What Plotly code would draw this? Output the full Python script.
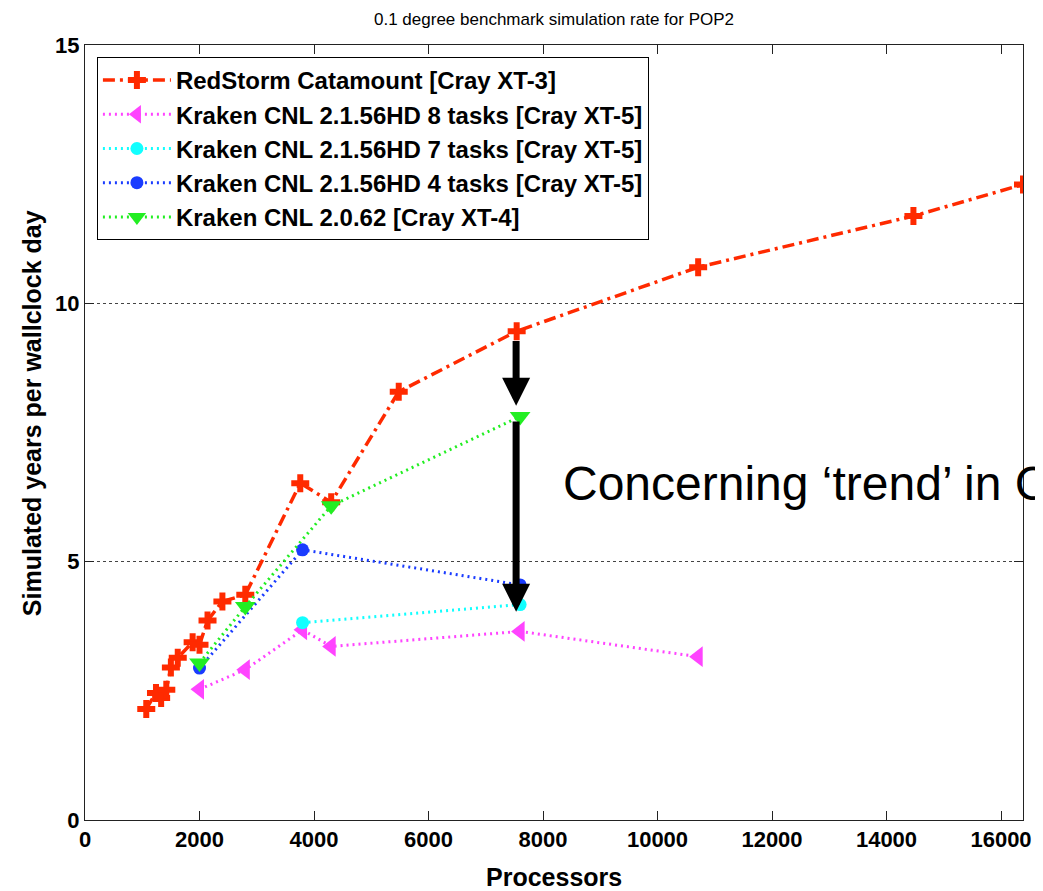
import plotly.graph_objects as go

# ---- data ----
red_x = [1070, 1240, 1330, 1420, 1500, 1620, 1880, 2000, 2140, 2400, 2800, 3760, 4300, 5480, 7540, 10710, 14470, 16384]
red_y = [2.15, 2.46, 2.36, 2.52, 2.95, 3.14, 3.44, 3.39, 3.86, 4.23, 4.36, 6.52, 6.15, 8.29, 9.46, 10.70, 11.69, 12.30]

mag_x = [2000, 2800, 3800, 4300, 7600, 10710]
mag_y = [2.53, 2.91, 3.68, 3.36, 3.65, 3.16]

cyan_x = [3800, 7600]
cyan_y = [3.82, 4.17]

blue_x = [2000, 3800, 7600]
blue_y = [2.94, 5.23, 4.55]

green_x = [2000, 2800, 4300, 7600]
green_y = [3.04, 4.13, 6.08, 7.81]

names = [
    "RedStorm Catamount [Cray XT-3]",
    "Kraken CNL 2.1.56HD 8 tasks [Cray XT-5]",
    "Kraken CNL 2.1.56HD 7 tasks [Cray XT-5]",
    "Kraken CNL 2.1.56HD 4 tasks [Cray XT-5]",
    "Kraken CNL 2.0.62 [Cray XT-4]",
]

x_ticks = [0, 2000, 4000, 6000, 8000, 10000, 12000, 14000, 16000]
y_ticks = [0, 5, 10, 15]

title_text = "0.1 degree benchmark simulation rate for POP2"
xlabel = "Processors"
ylabel = "Simulated years per wallclock day"
note_text = "Concerning \u2018trend\u2019 in CNL"

# arrows (tail y, head y) at x
arrow_x = 7530
arrows = [(9.30, 8.02), (7.74, 4.03)]

FONT = "Liberation Sans, Arial, Helvetica, sans-serif"

fig = go.Figure()

def add(x, y, name, color, dash, symbol, size, lw):
    fig.add_trace(go.Scatter(
        x=x, y=y, name=name, mode="lines+markers", legendgroup=name,
        line=dict(color=color, dash=dash, width=lw),
        marker=dict(symbol=symbol, size=size, color=color, line=dict(width=0)),
    ))

add(red_x, red_y, names[0], "#ff2a00", "12px,5px,3px,5px", "cross", 15, 3.5)
add(mag_x, mag_y, names[1], "#ff44ff", "2px,4px", "triangle-left", 18, 3)
add(cyan_x, cyan_y, names[2], "#11ffff", "2px,4px", "circle", 13, 3)
add(blue_x, blue_y, names[3], "#1a3cff", "2px,4px", "circle", 13, 3)
add(green_x, green_y, names[4], "#22ee22", "2px,4px", "triangle-down", 18, 3)

annotations = []
for (ty, hy) in arrows:
    annotations.append(dict(
        x=arrow_x, y=hy, ax=arrow_x, ay=ty, xref="x", yref="y", axref="x", ayref="y",
        text="", showarrow=True, arrowhead=2, arrowsize=0.8, arrowwidth=7, arrowcolor="black",
        standoff=0, startstandoff=0,
    ))

annotations.append(dict(
    x=8319, y=6.51, xref="x", yref="y", text=note_text, showarrow=False,
    xanchor="left", yanchor="middle", font=dict(family=FONT, size=48, color="black"),
))
annotations.append(dict(
    x=-0.0565, y=0.525, xref="paper", yref="paper", text="<b>" + ylabel + "</b>", showarrow=False,
    textangle=-90, xanchor="center", yanchor="middle", font=dict(family=FONT, size=25, color="black"),
))
annotations.append(dict(
    x=0.5, y=-0.073, xref="paper", yref="paper", text="<b>" + xlabel + "</b>", showarrow=False,
    xanchor="center", yanchor="middle", font=dict(family=FONT, size=25, color="black"),
))
annotations.append(dict(
    x=0.5, y=1.0, xref="paper", yref="paper", text=title_text, showarrow=False,
    xanchor="center", yanchor="bottom", yshift=14, font=dict(family=FONT, size=17, color="black"),
))

fig.update_layout(
    width=1035, height=883,
    margin=dict(l=77, r=13, t=37, b=71),
    paper_bgcolor="white", plot_bgcolor="white",
    font=dict(family=FONT, color="black"),
    showlegend=True,
    legend=dict(
        x=0.0127, y=0.9845, xanchor="left", yanchor="top",
        bgcolor="white", bordercolor="black", borderwidth=1,
        font=dict(family=FONT, size=24, color="black", weight="bold"),
        tracegroupgap=0, traceorder="grouped", itemwidth=68,
    ),
    annotations=annotations,
)

fig.update_xaxes(
    range=[0, 16384], tickvals=x_ticks, ticktext=[f"<b>{v}</b>" for v in x_ticks],
    showgrid=False, zeroline=False,
    showline=True, linecolor="#222", linewidth=1, mirror="ticks",
    ticks="inside", ticklen=9, tickcolor="#222",
    tickfont=dict(family=FONT, size=22, color="black"),
)
fig.update_yaxes(
    range=[0, 15], tickvals=y_ticks, ticktext=[f"<b>{v}</b>" for v in y_ticks],
    showgrid=True, gridcolor="#444", griddash="dot", gridwidth=1, zeroline=False,
    showline=True, linecolor="#222", linewidth=1, mirror="ticks",
    ticks="inside", ticklen=9, tickcolor="#222",
    tickfont=dict(family=FONT, size=22, color="black"),
)

fig.write_html("out.html")
